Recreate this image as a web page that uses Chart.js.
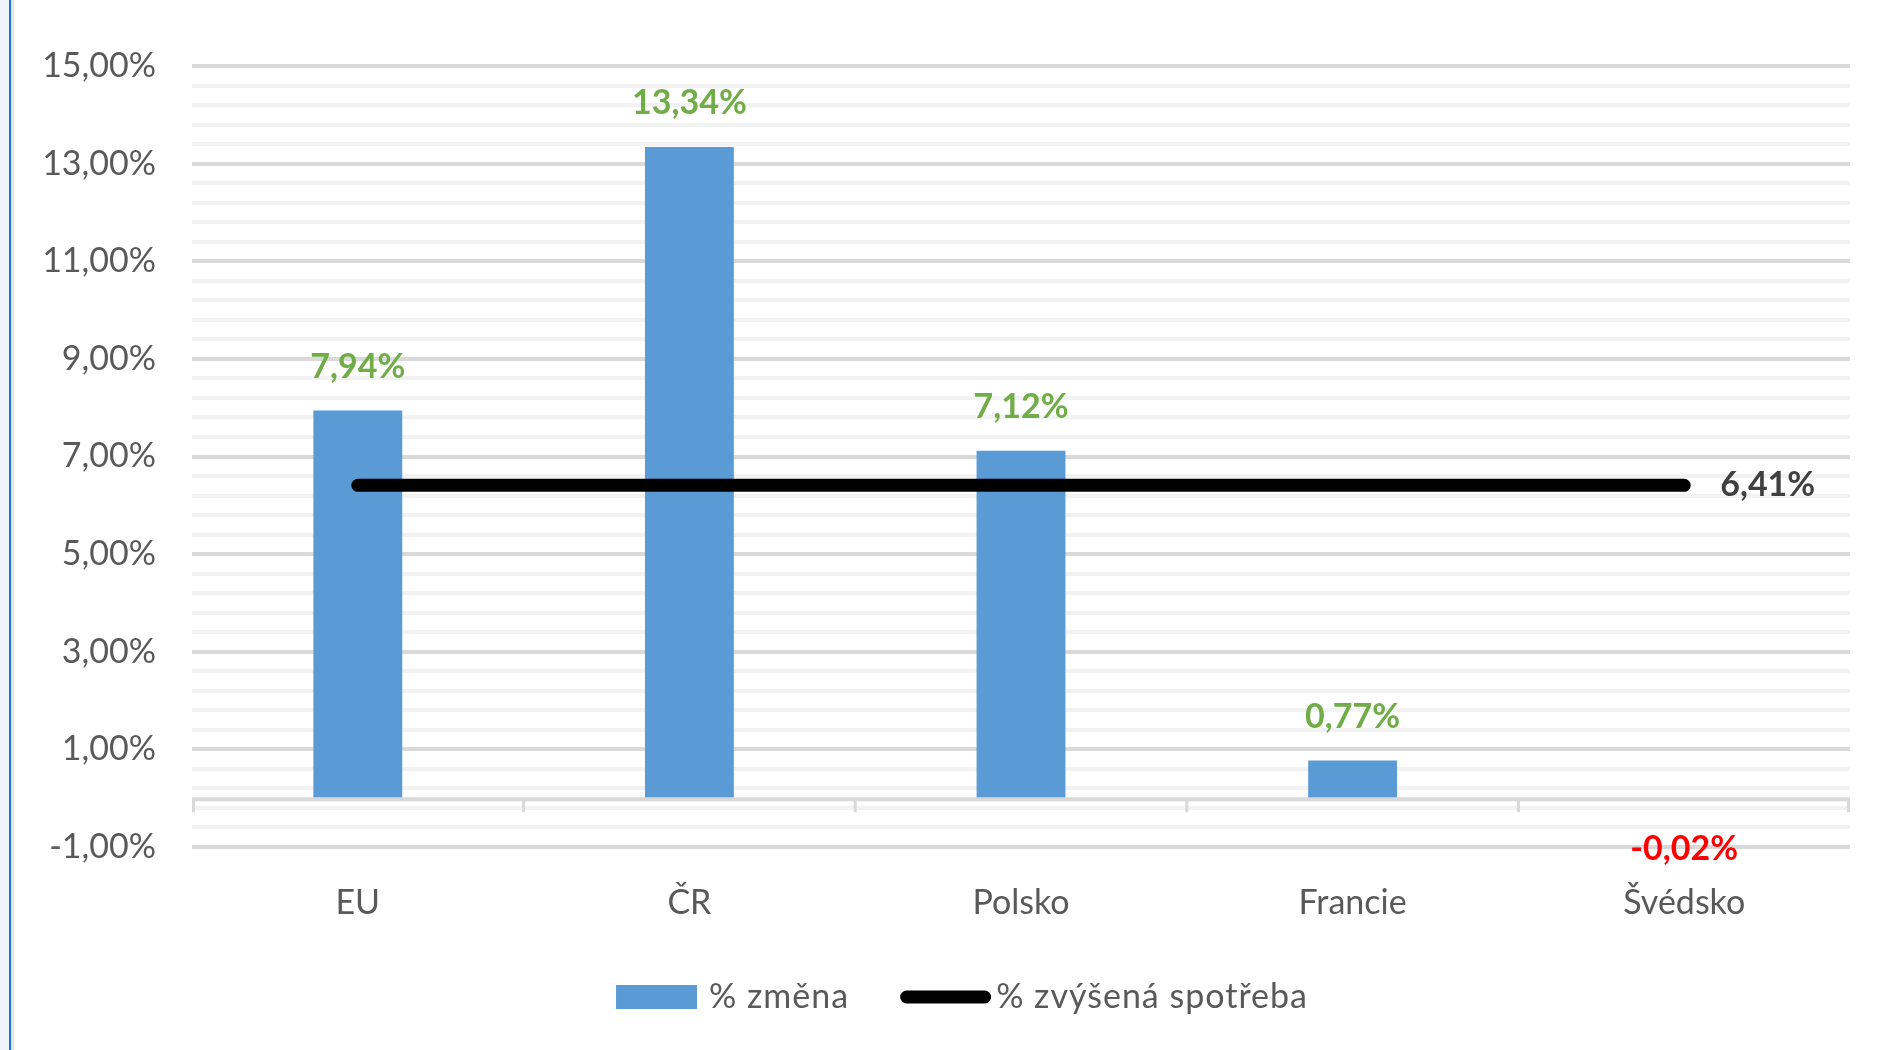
<!DOCTYPE html>
<html>
<head>
<meta charset="utf-8">
<script src="https://cdn.jsdelivr.net/npm/chart.js@4.4.0/dist/chart.umd.min.js"></script>
<style>
html, body { margin: 0; padding: 0; background: #fff; }
#wrap { position: relative; width: 1883px; height: 1050px; overflow: hidden; }
#edge { position: absolute; left: 0; top: 0; width: 9px; height: 1050px; background: #eff5fb; border-right: 2px solid #1a73d1; }
#edge2 { position: absolute; left: 11px; top: 0; width: 3px; height: 1050px; background: #e4e4e4; }
canvas { position: absolute; left: 0; top: 0; }
</style>
</head>
<body>
<div id="wrap">
  <canvas id="chart" width="1883" height="1050"></canvas>
  <div id="edge"></div>
  <div id="edge2"></div>
</div>
<script>
// data
const categories = ['EU', 'ČR', 'Polsko', 'Francie', 'Švédsko'];
const zmena = [7.94, 13.34, 7.12, 0.77, -0.02];
const spotreba = [6.41, 6.41, 6.41, 6.41, 6.41];
const yLabels = [-1, 1, 3, 5, 7, 9, 11, 13, 15];
const seriesNames = ['% změna', '% zvýšená spotřeba'];

const FONT = 'Lato, "Open Sans", sans-serif';
const GREY = '#595959';

// minor grid every 0.4 between the labelled lines
const gridValues = [];
for (let i = 0; i <= 40; i++) {
    gridValues.push(Math.round((-1 + i * 0.4) * 100) / 100);
}

function isMajor(v) {
    return yLabels.some(t => Math.abs(t - v) < 1e-6);
}

function fmt(v) {
    return v.toFixed(2).replace('.', ',') + '%';
}

const extras = {
    id: 'extras',
    afterDatasetsDraw(chart) {
        const ctx = chart.ctx;
        const x = chart.scales.x;
        const y = chart.scales.y;
        const area = chart.chartArea;
        const y0 = y.getPixelForValue(0);

        // horizontal axis at zero
        ctx.save();
        ctx.strokeStyle = '#d9d9d9';
        ctx.lineWidth = 4;
        ctx.beginPath();
        ctx.moveTo(area.left, y0 + 1);
        ctx.lineTo(area.right, y0 + 1);
        ctx.stroke();

        // tick marks between categories
        const n = categories.length;
        ctx.lineWidth = 3;
        for (let i = 0; i <= n; i++) {
            let px;
            if (i == 0) px = area.left + 1.5;
            else if (i == n) px = area.right - 1.5;
            else px = (x.getPixelForValue(i - 1) + x.getPixelForValue(i)) / 2;
            ctx.beginPath();
            ctx.moveTo(px, y0);
            ctx.lineTo(px, y0 + 14);
            ctx.stroke();
        }

        // data labels
        ctx.font = 'bold 34px ' + FONT;
        ctx.textAlign = 'center';
        ctx.textBaseline = 'middle';

        const bars = chart.getDatasetMeta(0).data;
        bars.forEach((el, i) => {
            const v = zmena[i];
            if (v >= 0) {
                ctx.fillStyle = '#70ad47';
                ctx.fillText(fmt(v), el.x, el.y - 44);
            } else {
                ctx.fillStyle = '#ff0000';
                ctx.fillText(fmt(v), el.x, el.y + 50);
            }
        });

        const pts = chart.getDatasetMeta(1).data;
        const last = pts[pts.length - 1];
        ctx.fillStyle = '#404040';
        ctx.textAlign = 'left';
        ctx.fillText(fmt(spotreba[spotreba.length - 1]), last.x + 36, last.y);

        // legend
        ctx.font = '34px ' + FONT;
        ctx.letterSpacing = '1px';
        const w1 = ctx.measureText(seriesNames[0]).width;
        const w2 = ctx.measureText(seriesNames[1]).width;
        const gap = 51;
        const total = 81 + 12 + w1 + gap + 91 + 5 + w2;
        const ly = 997;
        let lx = 962 - total / 2;
        ctx.fillStyle = '#5b9bd5';
        ctx.fillRect(lx, ly - 12, 81, 24);
        lx += 81 + 12;
        ctx.fillStyle = GREY;
        ctx.fillText(seriesNames[0], lx, ly);
        lx += w1 + gap;
        ctx.strokeStyle = '#000';
        ctx.lineWidth = 13;
        ctx.lineCap = 'round';
        ctx.beginPath();
        ctx.moveTo(lx + 6.5, ly);
        ctx.lineTo(lx + 91 - 6.5, ly);
        ctx.stroke();
        lx += 91 + 5;
        ctx.fillText(seriesNames[1], lx, ly);
        ctx.restore();
    }
};

new Chart(document.getElementById('chart').getContext('2d'), {
    type: 'bar',
    data: {
        labels: categories,
        datasets: [{
            label: seriesNames[0],
            data: zmena,
            backgroundColor: '#5b9bd5',
            categoryPercentage: 1,
            barPercentage: 0.268,
            order: 2
        }, {
            type: 'line',
            label: seriesNames[1],
            data: spotreba,
            borderColor: '#000',
            borderWidth: 13,
            borderCapStyle: 'round',
            pointRadius: 0,
            fill: false,
            order: 1
        }]
    },
    options: {
        responsive: false,
        animation: false,
        layout: {
            padding: { left: 0, right: 33, top: 66, bottom: 113 }
        },
        plugins: {
            legend: { display: false },
            tooltip: { enabled: false }
        },
        scales: {
            x: {
                offset: true,
                grid: { display: false },
                border: { display: false },
                ticks: {
                    color: GREY,
                    font: { family: FONT, size: 34 },
                    padding: 28
                },
                afterFit(scale) { scale.height = 90; }
            },
            y: {
                min: -1,
                max: 15,
                afterBuildTicks(scale) {
                    scale.ticks = gridValues.map(v => ({ value: v }));
                },
                grid: {
                    drawTicks: false,
                    lineWidth: 4,
                    color: c => isMajor(c.tick.value) ? '#d9d9d9' : '#f2f2f2'
                },
                border: { display: false },
                ticks: {
                    color: GREY,
                    font: { family: FONT, size: 34 },
                    padding: 36,
                    autoSkip: false,
                    callback: v => isMajor(v) ? fmt(v) : ''
                },
                afterFit(scale) { scale.width = 192; }
            }
        }
    },
    plugins: [extras]
});
</script>
</body>
</html>
